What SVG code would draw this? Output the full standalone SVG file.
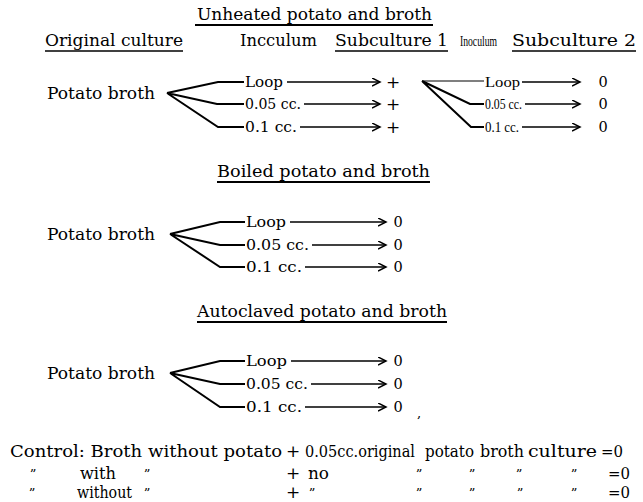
<svg xmlns="http://www.w3.org/2000/svg" width="643" height="502" viewBox="0 0 643 502">
<defs>
<style>
text{font-family:"DejaVu Serif","Liberation Serif",serif;fill:#000;font-size:16px}
.sm{font-size:14.5px}
.cn{font-family:"Liberation Serif","DejaVu Serif",serif;font-size:14px}
.pl{font-size:17px}
.dt{font-size:13px}
.ul{stroke:#000;stroke-width:1.6}
.tul{stroke:#000;stroke-width:2.2}
.fork{fill:none;stroke:#000;stroke-width:2;stroke-linejoin:miter}
.thin{fill:none;stroke:#000;stroke-width:1.1}
.arr{fill:none;stroke:#000;stroke-width:1.5;marker-end:url(#ah)}
</style>
<marker id="ah" markerUnits="userSpaceOnUse" markerWidth="10" markerHeight="10" refX="8" refY="4" orient="auto">
<path d="M0,0 L8,4 L0,8" fill="none" stroke="#000" stroke-width="1.5"/>
</marker>
</defs>
<rect width="643" height="502" fill="#fff"/>

<g id="headers">
<text x="197" y="20" textLength="235" lengthAdjust="spacingAndGlyphs">Unheated  potato  and  broth</text>
<line class="tul" x1="195" y1="25" x2="433" y2="25"/>
<text x="45" y="46" textLength="138" lengthAdjust="spacingAndGlyphs">Original culture</text>
<line class="ul" x1="45" y1="51" x2="183" y2="51"/>
<text x="240" y="46" textLength="77" lengthAdjust="spacingAndGlyphs">Incculum</text>
<text x="335" y="46" textLength="113" lengthAdjust="spacingAndGlyphs">Subculture 1</text>
<line class="ul" x1="335" y1="51" x2="448" y2="51"/>
<text x="460" y="46" class="cn" font-size="13" textLength="37" lengthAdjust="spacingAndGlyphs">Inoculum</text>
<text x="512" y="46" textLength="124" lengthAdjust="spacingAndGlyphs">Subculture 2</text>
<line class="ul" x1="512" y1="51" x2="636" y2="51"/>
</g>

<g id="sec1">
<text x="47" y="99" textLength="108" lengthAdjust="spacingAndGlyphs">Potato broth</text>
<text x="245" y="87" class="sm" textLength="38" lengthAdjust="spacingAndGlyphs">Loop</text>
<text x="245" y="109" class="sm" textLength="56" lengthAdjust="spacingAndGlyphs">0.05 cc.</text>
<text x="245" y="132" class="sm" textLength="52" lengthAdjust="spacingAndGlyphs">0.1 cc.</text>
<text x="393" y="88" class="pl" text-anchor="middle">+</text>
<text x="393" y="110" class="pl" text-anchor="middle">+</text>
<text x="393" y="133" class="pl" text-anchor="middle">+</text>
<text x="485" y="87" class="cn" textLength="35" lengthAdjust="spacingAndGlyphs">Loop</text>
<text x="485" y="109" class="cn" textLength="37" lengthAdjust="spacingAndGlyphs">0.05 cc.</text>
<text x="485" y="132" class="cn" textLength="34" lengthAdjust="spacingAndGlyphs">0.1 cc.</text>
<text x="603" y="87" class="sm" text-anchor="middle">0</text>
<text x="603" y="109" class="sm" text-anchor="middle">0</text>
<text x="603" y="132" class="sm" text-anchor="middle">0</text>
</g>

<g id="sec2">
<text x="217" y="177" textLength="213" lengthAdjust="spacingAndGlyphs">Boiled  potato  and  broth</text>
<line class="tul" x1="217" y1="182" x2="430" y2="182"/>
<text x="47" y="240" textLength="108" lengthAdjust="spacingAndGlyphs">Potato broth</text>
<text x="246" y="227" class="sm" textLength="40" lengthAdjust="spacingAndGlyphs">Loop</text>
<text x="246" y="250" class="sm" textLength="63" lengthAdjust="spacingAndGlyphs">0.05 cc.</text>
<text x="246" y="272" class="sm" textLength="56" lengthAdjust="spacingAndGlyphs">0.1 cc.</text>
<text x="398" y="227" class="sm" text-anchor="middle">0</text>
<text x="398" y="250" class="sm" text-anchor="middle">0</text>
<text x="398" y="272" class="sm" text-anchor="middle">0</text>
</g>

<g id="sec3">
<text x="197" y="317" textLength="250" lengthAdjust="spacingAndGlyphs">Autoclaved  potato  and  broth</text>
<line class="tul" x1="197" y1="322" x2="447" y2="322"/>
<text x="47" y="379" textLength="108" lengthAdjust="spacingAndGlyphs">Potato broth</text>
<text x="246" y="366" class="sm" textLength="41" lengthAdjust="spacingAndGlyphs">Loop</text>
<text x="246" y="389" class="sm" textLength="62" lengthAdjust="spacingAndGlyphs">0.05 cc.</text>
<text x="246" y="412" class="sm" textLength="56" lengthAdjust="spacingAndGlyphs">0.1 cc.</text>
<text x="398" y="366" class="sm" text-anchor="middle">0</text>
<text x="398" y="389" class="sm" text-anchor="middle">0</text>
<text x="398" y="412" class="sm" text-anchor="middle">0</text>
<text x="417" y="417" class="dt">,</text>
</g>

<g id="control">
<text x="10" y="457" textLength="272" lengthAdjust="spacingAndGlyphs">Control: Broth without potato</text>
<text x="293" y="457" class="pl" text-anchor="middle">+</text>
<text x="305" y="457" textLength="110" lengthAdjust="spacingAndGlyphs">0.05cc.original</text>
<text x="425" y="457" textLength="49" lengthAdjust="spacingAndGlyphs">potato</text>
<text x="480" y="457" textLength="44" lengthAdjust="spacingAndGlyphs">broth</text>
<text x="528" y="457" textLength="69" lengthAdjust="spacingAndGlyphs">culture</text>
<text x="601" y="457" textLength="22" lengthAdjust="spacingAndGlyphs">=0</text>

<text x="33" y="479" class="dt" text-anchor="middle">”</text>
<text x="80" y="479" textLength="36" lengthAdjust="spacingAndGlyphs">with</text>
<text x="147" y="479" class="dt" text-anchor="middle">”</text>
<text x="293" y="479" class="pl" text-anchor="middle">+</text>
<text x="308" y="479" textLength="21" lengthAdjust="spacingAndGlyphs">no</text>
<text x="419" y="479" class="dt" text-anchor="middle">”</text>
<text x="472" y="479" class="dt" text-anchor="middle">”</text>
<text x="519" y="479" class="dt" text-anchor="middle">”</text>
<text x="574" y="479" class="dt" text-anchor="middle">”</text>
<text x="608" y="479" textLength="22" lengthAdjust="spacingAndGlyphs">=0</text>

<text x="32" y="498" class="dt" text-anchor="middle">”</text>
<text x="77" y="498" textLength="55" lengthAdjust="spacingAndGlyphs">without</text>
<text x="147" y="498" class="dt" text-anchor="middle">”</text>
<text x="293" y="498" class="pl" text-anchor="middle">+</text>
<text x="312" y="498" class="dt" text-anchor="middle">”</text>
<text x="419" y="498" class="dt" text-anchor="middle">”</text>
<text x="472" y="498" class="dt" text-anchor="middle">”</text>
<text x="520" y="498" class="dt" text-anchor="middle">”</text>
<text x="574" y="498" class="dt" text-anchor="middle">”</text>
<text x="608" y="498" textLength="22" lengthAdjust="spacingAndGlyphs">=0</text>
</g>

<g id="connectors">
<path class="fork" d="M167,93 L218,82 L244,82 M167,93 L217,104 L244,104 M167,93 L218,127 L244,127"/>
<line class="arr" x1="287" y1="82" x2="380" y2="82"/>
<line class="arr" x1="304" y1="104" x2="380" y2="104"/>
<line class="arr" x1="300" y1="127" x2="380" y2="127"/>
<path class="thin" d="M422,81 L484,81"/>
<path class="fork" d="M422,81 L470,104 L484,104 M422,81 L471,127 L484,127"/>
<line class="arr" x1="522" y1="82" x2="580" y2="82"/>
<line class="arr" x1="525" y1="104" x2="580" y2="104"/>
<line class="arr" x1="522" y1="127" x2="580" y2="127"/>

<path class="fork" d="M170,234 L220,222 L245,222 M170,234 L220,245 L245,245 M170,234 L220,267 L245,267"/>
<line class="arr" x1="290" y1="222" x2="386" y2="222"/>
<line class="arr" x1="312" y1="245" x2="386" y2="245"/>
<line class="arr" x1="305" y1="267" x2="386" y2="267"/>

<path class="fork" d="M170,373 L220,361 L245,361 M170,373 L220,384 L245,384 M170,373 L220,407 L245,407"/>
<line class="arr" x1="291" y1="361" x2="386" y2="361"/>
<line class="arr" x1="311" y1="384" x2="386" y2="384"/>
<line class="arr" x1="305" y1="407" x2="386" y2="407"/>
</g>
</svg>
